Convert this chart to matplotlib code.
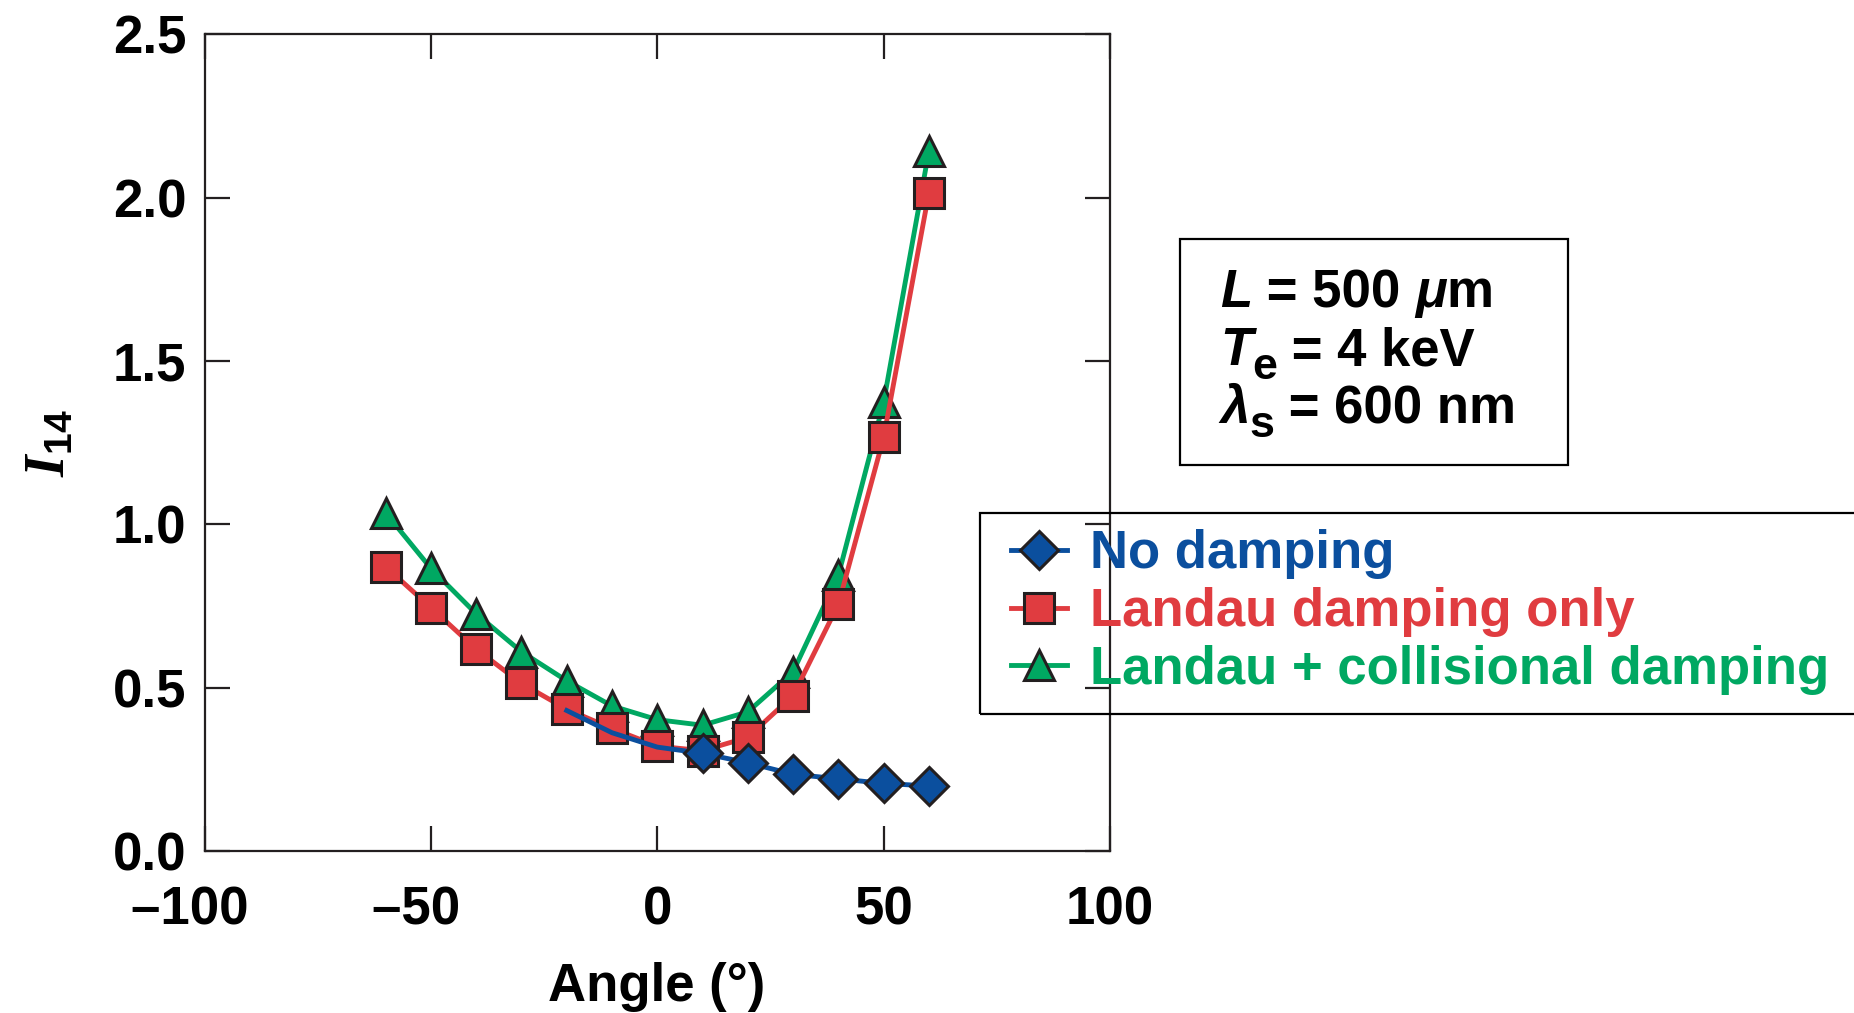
import matplotlib
matplotlib.use("Agg")
import matplotlib.pyplot as plt
from matplotlib.patches import Rectangle

# valores
angulos = [-60, -50, -40, -30, -20, -10, 0, 10, 20, 30, 40, 50, 60]
landau_only = [0.870, 0.745, 0.618, 0.513, 0.434, 0.375, 0.321, 0.307, 0.348, 0.476, 0.755, 1.266, 2.015]
landau_colisional = [1.035, 0.865, 0.726, 0.610, 0.521, 0.444, 0.402, 0.385, 0.426, 0.549, 0.844, 1.374, 2.143]

# sem amortecimento: linha visível a partir de -20, marcadores só de 10 a 60
angulos_sem = [-20, -10, 0, 10, 20, 30, 40, 50, 60]
sem_amortecimento = [0.430, 0.362, 0.318, 0.299, 0.270, 0.235, 0.221, 0.207, 0.199]

xticks = [-100, -50, 0, 50, 100]
xtick_labels = ["\u2013100\u2007", "\u201350\u2007", "0", "50", "100"]
yticks = [0.0, 0.5, 1.0, 1.5, 2.0, 2.5]

azul = "#0b4f9e"
vermelho = "#e03c40"
verde = "#00a862"
borda = "#231f20"

plt.rcParams["font.family"] = "Liberation Sans"
plt.rcParams["font.weight"] = "bold"
plt.rcParams["mathtext.fontset"] = "custom"
plt.rcParams["mathtext.rm"] = "Liberation Sans:bold"
plt.rcParams["mathtext.it"] = "Liberation Sans:italic:bold"
plt.rcParams["mathtext.bf"] = "Liberation Sans:bold"
plt.rcParams["mathtext.cal"] = "Liberation Serif:italic:bold"

fs = 38
W, H = 1854, 1013

fig = plt.figure(figsize=(W / 100, H / 100), dpi=100)
ax = fig.add_axes([204.6 / W, 1 - 851 / H, (1110 - 204.6) / W, (851 - 34.3) / H])

ax.plot(angulos, landau_colisional, color=verde, lw=3.5, marker="^", ms=21,
        mfc=verde, mec=borda, mew=2.2, zorder=2, label="Landau + collisional damping")
ax.plot(angulos, landau_only, color=vermelho, lw=3.5, marker="s", ms=22,
        mfc=vermelho, mec=borda, mew=2.2, zorder=3, label="Landau damping only")
ax.plot(angulos_sem, sem_amortecimento, color=azul, lw=3.5, marker="D", ms=19,
        mfc=azul, mec=borda, mew=2.2, zorder=4, markevery=slice(3, None), label="No damping")

ax.set_xlim(-100, 100)
ax.set_ylim(0, 2.5)
ax.set_xticks(xticks)
ax.set_xticklabels(xtick_labels)
ax.set_yticks(yticks)
ax.set_yticklabels([f"{v:.1f}" for v in yticks])

for s in ax.spines.values():
    s.set_linewidth(1.6)
    s.set_color(borda)

ax.tick_params(axis="both", direction="in", length=18, width=1.6, top=True, right=True,
               labelsize=fs, color=borda)
ax.tick_params(axis="x", pad=25)
ax.tick_params(axis="y", pad=13)
for lab in ax.get_xticklabels() + ax.get_yticklabels():
    lab.set_fontweight("bold")

fig.text(657 / W, 1 - 1001 / H, "Angle (\u00b0)", fontsize=fs, ha="center", va="baseline")
fig.text(50 / W, 1 - 443 / H, r"$\mathcal{I}_{14}$", fontsize=fs + 2, rotation=90,
         ha="center", va="center")

# legenda (moldura desenhada à parte, sai pela borda direita)
handles, labels = ax.get_legend_handles_labels()
ordem = [2, 1, 0]
cores_texto = [azul, vermelho, verde]
leg = ax.legend([handles[i] for i in ordem], [labels[i] for i in ordem],
                loc="upper left", bbox_to_anchor=(990 / W, 1 - 508 / H),
                bbox_transform=fig.transFigure, fontsize=fs, frameon=False,
                borderpad=0.4, labelspacing=0.15,
                handlelength=1.05, handletextpad=0.45, borderaxespad=0)
for txt, c in zip(leg.get_texts(), cores_texto):
    txt.set_color(c)
    txt.set_fontweight("bold")
fig.add_artist(Rectangle((980 / W, 1 - 714 / H), 900 / W, (714 - 513) / H,
                         transform=fig.transFigure, fill=False, lw=1.6, ec="black"))

# caixa de parâmetros
fig.add_artist(Rectangle((1180 / W, 1 - 465 / H), (1568 - 1180) / W, (465 - 239) / H,
                         transform=fig.transFigure, fill=False, lw=1.6, ec="black"))

renderer = fig.canvas.get_renderer()


def escrever(x_px, base_px, pecas):
    # escreve pedaços de texto lado a lado (para os subscritos)
    x = x_px
    for texto, estilo, tam, desce in pecas:
        t = fig.text(x / W, 1 - (base_px + desce) / H, texto, fontsize=tam,
                     style=estilo, ha="left", va="baseline")
        x += t.get_window_extent(renderer=renderer).width


escrever(1220, 307, [("L", "italic", fs, 0), (" = 500 ", "normal", fs, 0),
                     ("\u03bc", "italic", fs, 0), ("m", "normal", fs, 0)])
escrever(1220, 365, [("T", "italic", fs, 0), ("e", "normal", fs * 0.85, 14),
                     (" = 4 keV", "normal", fs, 0)])
escrever(1220, 423, [("\u03bb", "italic", fs, 0), ("s", "normal", fs * 0.85, 14),
                     (" = 600 nm", "normal", fs, 0)])

fig.savefig("out.png", dpi=100)
